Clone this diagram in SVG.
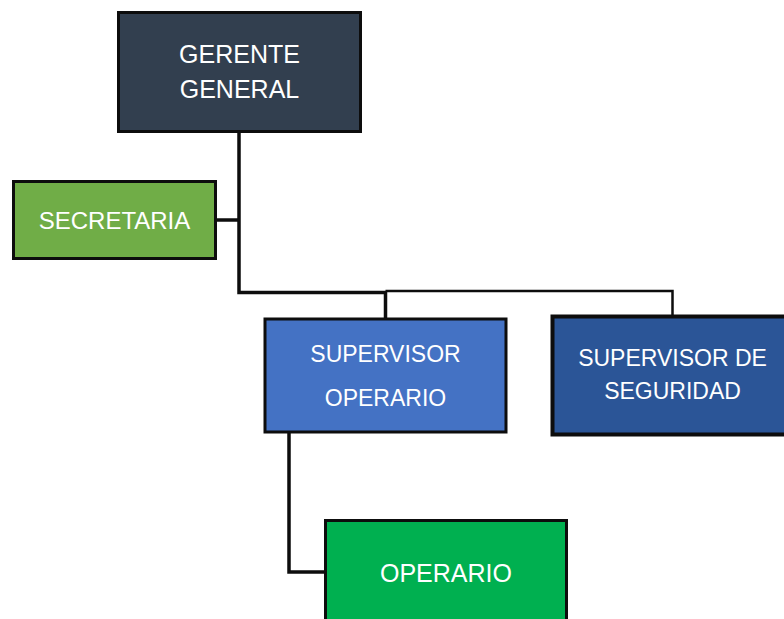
<svg xmlns="http://www.w3.org/2000/svg" width="784" height="619" viewBox="0 0 784 619">
<style>
.box{stroke:#0d0d0d;stroke-width:3}
.t{font-family:"Liberation Sans",Arial,sans-serif;fill:#ffffff;text-anchor:middle}
.c{fill:none;stroke:#0d0d0d;stroke-width:3.5}
.c2{fill:none;stroke:#0d0d0d;stroke-width:2.5}
</style>
<rect width="784" height="619" fill="#ffffff"/>
<g id="connectors">
<polyline class="c" points="239,133 239,292.5 385.5,292.5 385.5,318"/>
<line class="c" x1="216" y1="220" x2="239" y2="220"/>
<polyline class="c2" points="385.5,291 672.5,291 672.5,316"/>
<polyline class="c" points="289,433 289,572 325,572"/>
</g>
<g id="gerente">
<rect class="box" x="118.5" y="12.5" width="242" height="119" fill="#323f4f"/>
<text class="t" x="239.5" y="63" font-size="25">GERENTE</text>
<text class="t" x="239.5" y="98" font-size="25">GENERAL</text>
</g>
<g id="secretaria">
<rect class="box" x="13.5" y="181.5" width="202" height="77" fill="#70ad47"/>
<text class="t" x="114.5" y="229" font-size="24">SECRETARIA</text>
</g>
<g id="supervisor-operario">
<rect class="box" x="265" y="319" width="241" height="113" fill="#4472c4"/>
<text class="t" x="385.5" y="362" font-size="23">SUPERVISOR</text>
<text class="t" x="385.5" y="406" font-size="23">OPERARIO</text>
</g>
<g id="supervisor-seguridad">
<rect x="552.5" y="316.5" width="240" height="118" fill="#2b5597" stroke="#0d0d0d" stroke-width="4"/>
<text class="t" x="672.5" y="366" font-size="23">SUPERVISOR DE</text>
<text class="t" x="672.5" y="399" font-size="23">SEGURIDAD</text>
</g>
<g id="operario">
<rect class="box" x="325.5" y="520.5" width="241" height="110" fill="#00b050"/>
<text class="t" x="446" y="582" font-size="25">OPERARIO</text>
</g>
</svg>
